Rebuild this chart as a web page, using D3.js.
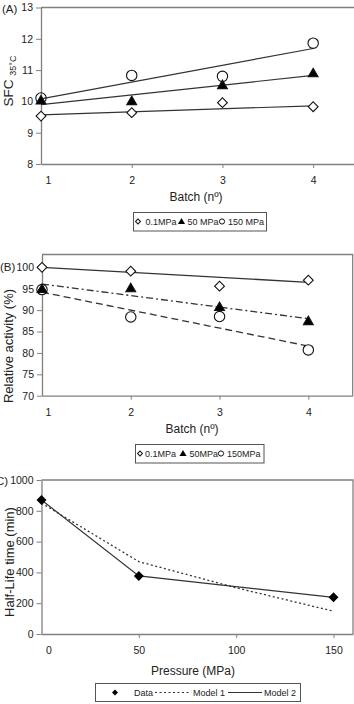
<!DOCTYPE html>
<html>
<head>
<meta charset="utf-8">
<script src="https://cdn.jsdelivr.net/npm/d3@7"></script>
<style>
  body { margin: 0; background: #fff; }
  svg { display: block; font-family: "Liberation Sans", Arial, sans-serif; }
</style>
</head>
<body>
<svg id="chart" width="354" height="704"></svg>
<script>
// panel A - SFC 35C
const batches = [1, 2, 3, 4];
const sfc01 = [9.53, 9.64, 9.96, 9.83];
const sfc50 = [10.04, 10.02, 10.53, 10.91];
const sfc150 = [10.11, 10.83, 10.80, 11.86];
// trend lines, value at batch 1 and batch 4
const trendBatches = [1, 4];
const sfcTrend01 = [9.57, 9.86];
const sfcTrend50 = [9.90, 10.83];
const sfcTrend150 = [10.08, 11.69];
const sfcTicks = [8, 9, 10, 11, 12, 13];

// panel B - relative activity
const act01 = [100, 99.1, 95.6, 97.0];
const act50 = [95.0, 95.2, 90.8, 87.5];
const act150 = [94.8, 88.4, 88.5, 80.7];
const actTrend01 = [100.0, 96.5];
const actTrend50 = [96.1, 88.0];
const actTrend150 = [94.2, 81.6];
const actTicks = [70, 75, 80, 85, 90, 95, 100];

// panel C - half-life
const pressure = [0, 50, 150];
const halfLife = [870, 377, 238];
const model1Pressure = [0, 50, 100, 150];
const model1 = [850, 470, 300, 148];
const model2 = [870, 377, 238];
const halfTicks = [0, 200, 400, 600, 800, 1000];
const pressureTicks = [0, 50, 100, 150];

const svg = d3.select("#chart");
const axisCol = "#808080", lineCol = "#333", textCol = "#222";

const pairs = (xs, ys) => xs.map((x, i) => ({x: x, y: ys[i]}));

function marker(g, type, x, y, fill) {
  let p;
  if (type === "diamond") {
    p = g.append("path").attr("d", d3.symbol(d3.symbolSquare, 48)())
      .attr("transform", `translate(${x},${y}) rotate(45)`);
  } else if (type === "triangle") {
    p = g.append("path").attr("d", d3.symbol(d3.symbolTriangle, 42)())
      .attr("transform", `translate(${x},${y + 1})`);
  } else {
    p = g.append("circle").attr("cx", x).attr("cy", y).attr("r", 5.2);
  }
  p.attr("fill", fill).attr("stroke", "#111").attr("stroke-width", 1.1);
}

function frame(x, y, top, right) {
  // plot border (top + right), axes drawn separately
  svg.append("path")
    .attr("d", `M${x.range()[0]},${top}H${right}V${y.range()[0]}`)
    .attr("fill", "none").attr("stroke", axisCol).attr("stroke-width", 1.3);
}

function axes(x, y, xTicks, yTicks, firstDx) {
  const fmt = d3.format("d");
  const gy = svg.append("g")
    .attr("transform", `translate(${x.range()[0]},0)`)
    .call(d3.axisLeft(y).tickValues(yTicks).tickFormat(fmt)
      .tickSize(5).tickSizeOuter(0).tickPadding(3));
  const gx = svg.append("g")
    .attr("transform", `translate(0,${y.range()[0]})`)
    .call(d3.axisBottom(x).tickValues(xTicks).tickFormat(fmt)
      .tickSize(4).tickSizeOuter(0).tickPadding(9));
  [gx, gy].forEach(g => {
    g.select(".domain").attr("stroke", axisCol).attr("stroke-width", 1.3);
    g.selectAll(".tick line").attr("stroke", axisCol);
    g.selectAll(".tick text").attr("fill", textCol).style("font-size", "10.5px")
      .style("font-family", "'Liberation Sans', Arial, sans-serif");
  });
  gx.selectAll(".tick").filter((d, i) => i === 0).select("text").attr("dx", firstDx);
  gx.selectAll(".tick").filter((d, i) => i === 0).select("line").remove();
}

function label(txt, x, y, size, rot) {
  const t = svg.append("text").attr("x", x).attr("y", y)
    .attr("fill", textCol).style("font-size", size + "px").text(txt);
  if (rot) t.attr("transform", `rotate(-90,${x},${y})`).attr("text-anchor", "middle");
  return t;
}

// ---------- Panel A ----------
const xA = d3.scaleLinear().domain([1, 4.45]).range([41, 354]);
const yA = d3.scaleLinear().domain([8, 13]).range([164, 7.5]);
frame(xA, yA, 7.5, 356);
axes(xA, yA, batches, sfcTicks, 7);

const lineA = d3.line().x(d => xA(d.x)).y(d => yA(d.y));
[sfcTrend01, sfcTrend50, sfcTrend150].forEach(t => {
  svg.append("path").datum(pairs(trendBatches, t)).attr("d", lineA)
    .attr("fill", "none").attr("stroke", lineCol).attr("stroke-width", 1.2);
});
const gA = svg.append("g");
batches.forEach((b, i) => {
  marker(gA, "diamond", xA(b), yA(sfc01[i]), "#fff");
  marker(gA, "circle", xA(b), yA(sfc150[i]), "none");
  marker(gA, "triangle", xA(b), yA(sfc50[i]), "#000");
});

label("(A)", 2, 13, 11.5);
const sfcLab = svg.append("text").attr("transform", "translate(13,81) rotate(-90)")
  .attr("text-anchor", "middle").attr("fill", textCol).style("font-size", "13.5px");
sfcLab.append("tspan").text("SFC ");
sfcLab.append("tspan").style("font-size", "9px").attr("dy", 3).text("35°C");
label("Batch (nº)", 196, 201, 12).attr("text-anchor", "middle");

// legend A
function legendBox(x0, y0, w, h) {
  svg.append("rect").attr("x", x0).attr("y", y0).attr("width", w).attr("height", h)
    .attr("fill", "#fff").attr("stroke", "#555").attr("stroke-width", 1);
}
function legendMarks(items, cy) {
  const g = svg.append("g");
  items.forEach(it => {
    if (it.type === "diamond") {
      g.append("path").attr("d", d3.symbol(d3.symbolSquare, 12)())
        .attr("transform", `translate(${it.mx},${cy}) rotate(45)`)
        .attr("fill", "#fff").attr("stroke", "#111");
    } else if (it.type === "triangle") {
      g.append("path").attr("d", d3.symbol(d3.symbolTriangle, 22)())
        .attr("transform", `translate(${it.mx},${cy + 0.5})`).attr("fill", "#000");
    } else {
      g.append("circle").attr("cx", it.mx).attr("cy", cy).attr("r", 2.6)
        .attr("fill", "none").attr("stroke", "#111");
    }
    g.append("text").attr("x", it.tx).attr("y", cy + 3.3).attr("fill", textCol)
      .style("font-size", "9px").text(it.label);
  });
}
legendBox(133.5, 212.5, 133, 18.5);
legendMarks([
  {type: "diamond", mx: 138, tx: 145.5, label: "0.1MPa"},
  {type: "triangle", mx: 181.5, tx: 187.5, label: "50 MPa"},
  {type: "circle", mx: 222, tx: 228, label: "150 MPa"}
], 221.5);

// ---------- Panel B ----------
const xB = d3.scaleLinear().domain([1, 4.5]).range([42, 352.7]);
const yB = d3.scaleLinear().domain([70, 103]).range([395.7, 254.5]);
frame(xB, yB, 254.5, 352.7);
axes(xB, yB, batches, actTicks, 6);

const lineB = d3.line().x(d => xB(d.x)).y(d => yB(d.y));
[[actTrend01, null], [actTrend50, "7,3,2,3"], [actTrend150, "7,4"]].forEach(([t, dash]) => {
  svg.append("path").datum(pairs(trendBatches, t)).attr("d", lineB)
    .attr("fill", "none").attr("stroke", lineCol).attr("stroke-width", 1.3)
    .attr("stroke-dasharray", dash);
});
const gB = svg.append("g");
batches.forEach((b, i) => {
  marker(gB, "diamond", xB(b), yB(act01[i]), "#fff");
  marker(gB, "circle", xB(b), yB(act150[i]), "#fff");
  marker(gB, "triangle", xB(b), yB(act50[i]), "#000");
});

label("(B)", 0, 271, 11.5);
label("Relative activity (%)", 13, 346, 13, true);
label("Batch (nº)", 192, 433, 12).attr("text-anchor", "middle");
legendBox(135.5, 444.5, 128.5, 18.5);
legendMarks([
  {type: "diamond", mx: 140, tx: 145, label: "0.1MPa"},
  {type: "triangle", mx: 183, tx: 189.5, label: "50MPa"},
  {type: "circle", mx: 221, tx: 227, label: "150MPa"}
], 453.5);

// ---------- Panel C ----------
const xC = d3.scaleLinear().domain([0, 160]).range([41.5, 353]);
const yC = d3.scaleLinear().domain([0, 1000]).range([634, 480]);
frame(xC, yC, 480, 353);
axes(xC, yC, pressureTicks, halfTicks, 7);

const lineC = d3.line().x(d => xC(d.x)).y(d => yC(d.y));
svg.append("path").datum(pairs(model1Pressure, model1)).attr("d", lineC)
  .attr("fill", "none").attr("stroke", lineCol).attr("stroke-width", 1.3)
  .attr("stroke-dasharray", "2,2.5");
svg.append("path").datum(pairs(pressure, model2)).attr("d", lineC)
  .attr("fill", "none").attr("stroke", lineCol).attr("stroke-width", 1.2);
const gC = svg.append("g");
pressure.forEach((p, i) => {
  gC.append("path").attr("d", d3.symbol(d3.symbolSquare, 50)())
    .attr("transform", `translate(${xC(p)},${yC(halfLife[i])}) rotate(45)`)
    .attr("fill", "#000");
});

// the "C" is cut by the left edge, as in the original figure
label("C)", -4, 485, 11.5);
label("Half-Life time (min)", 14, 562, 13, true);
label("Pressure (MPa)", 193, 675, 12).attr("text-anchor", "middle");

// legend C
legendBox(95.5, 683.5, 205, 18);
const lgC = svg.append("g");
const cyC = 692.5;
lgC.append("path").attr("d", d3.symbol(d3.symbolSquare, 18)())
  .attr("transform", `translate(115,${cyC}) rotate(45)`).attr("fill", "#000");
lgC.append("text").attr("x", 134).attr("y", cyC + 3.3).style("font-size", "9px").attr("fill", textCol).text("Data");
lgC.append("line").attr("x1", 155).attr("x2", 191).attr("y1", cyC).attr("y2", cyC)
  .attr("stroke", lineCol).attr("stroke-dasharray", "2,2.5");
lgC.append("text").attr("x", 193).attr("y", cyC + 3.3).style("font-size", "9px").attr("fill", textCol).text("Model 1");
lgC.append("line").attr("x1", 228).attr("x2", 262).attr("y1", cyC).attr("y2", cyC)
  .attr("stroke", lineCol);
lgC.append("text").attr("x", 264).attr("y", cyC + 3.3).style("font-size", "9px").attr("fill", textCol).text("Model 2");
</script>
</body>
</html>
